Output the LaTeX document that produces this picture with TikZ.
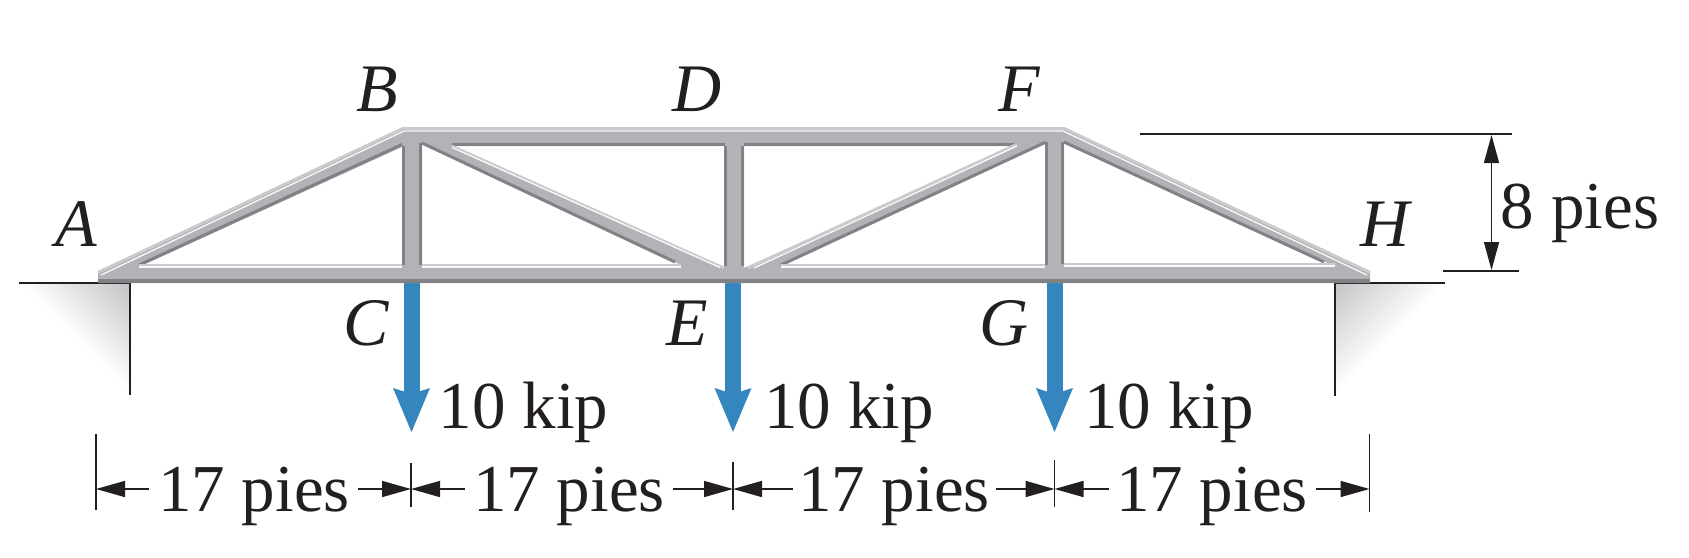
\documentclass[tikz,border=0pt]{standalone}
\usepackage{fontspec}
\setmainfont{Liberation Serif}
\usetikzlibrary{arrows.meta}
\definecolor{ink}{HTML}{231F20}
\definecolor{steel}{HTML}{B1B3B6}
\definecolor{steeldark}{HTML}{808285}
\definecolor{steellight}{HTML}{C9CBCD}
\definecolor{loadblue}{HTML}{3585BF}
\definecolor{shadegray}{HTML}{C2C3C5}
\tikzset{
  x=1pt,y=-1pt,
  lbl/.style={inner sep=0pt,anchor=base,text=ink,font=\fontsize{68}{68}\selectfont\itshape},
  dimtxt/.style={inner sep=0pt,anchor=base,text=ink,font=\fontsize{67}{67}\selectfont},
  thin line/.style={draw=ink,line width=1.5pt},
  dimarrow/.style={draw=ink,line width=1.5pt,-{Triangle[length=29pt,width=16pt]}},
  load/.style={draw=loadblue,fill=none,line width=16pt},
  edgewhite/.style={draw=white!92!steel,line width=1.3pt},
  edgelight/.style={draw=steellight,line width=2.6pt},
}
\begin{document}
\begin{tikzpicture}
\useasboundingbox (0,0) rectangle (1689,557);
% supports: nested triangles give a fade from the corner to the hypotenuse
\foreach \L in {111,109,...,1}{
  \pgfmathsetmacro\pct{100*(1-\L/111)}
  \fill[shadegray!\pct!white] (130,283) -- ++(-\L,0) -- ++(\L,\L) -- cycle;
  \fill[shadegray!\pct!white] (1335,283) -- ++(\L,0) -- ++(-\L,\L) -- cycle;
}
\coordinate (gl0) at (19,283); \coordinate (gl1) at (130,283); \coordinate (gl2) at (130,395);
\coordinate (gr0) at (1445,283); \coordinate (gr1) at (1335,283); \coordinate (gr2) at (1335,396);
\draw[thin line] (gl0) -- (gl1) -- (gl2);
\draw[thin line] (gr0) -- (gr1) -- (gr2);
% loads
\coordinate (c1) at (411.5,282); \coordinate (c2) at (733,282); \coordinate (c3) at (1054.5,282);
\foreach \n in {c1,c2,c3}{
  \draw[load] (\n) -- ++(0,112);
  \fill[loadblue] (\n) ++(0,150) -- ++(-18.5,-44) -- ++(18.5,6) -- ++(18.5,-6) -- cycle;
}
% truss body with holes
\fill[steel,even odd rule]
  (98,271) -- (403,127) -- (1064,127) -- (1370,271) -- (1370,283) -- (98,283) -- cycle
  (143,265) -- (402,147) -- (402,265) -- cycle
  (422,143) -- (681,265) -- (422,265) -- cycle
  (452,146) -- (724,146) -- (724,268) -- cycle
  (744,146) -- (1017,146) -- (744,268) -- cycle
  (781,265) -- (1045,142) -- (1045,265) -- cycle
  (1064,142) -- (1330,264) -- (1064,264) -- cycle;
% dark edges
\draw[steeldark,line width=4pt] (98,281) -- (1370,281);
\foreach \a/\b in {{139,265}/{402,144.5},{403.5,146}/{403.5,265},{420.5,143}/{420.5,265},{422,143}/{675,262},{452,144.5}/{725,144.5},{725.5,146}/{725.5,266},{742.5,146}/{742.5,266},{744,144.5}/{1017,144.5},{781,265}/{1045,142.5},{1046.5,142}/{1046.5,265},{1062.5,142}/{1062.5,264},{1064,142}/{1324,262}}
  \draw[steeldark,line width=3pt] (\a) -- (\b);
% light edges
\draw[edgelight] (98,272.5) -- (403,128.5) -- (1064,128.5) -- (1370,272.5);
\draw[edgewhite] (101,275) -- (404,131) -- (1063,131) -- (1367,275);
\draw[edgelight] (139,265.5) -- (402,265.5);
\draw[edgewhite] (139,267) -- (402,267);
\draw[edgelight] (422,265.5) -- (681,265.5);
\draw[edgewhite] (422,267) -- (681,267);
\draw[edgelight] (781,265.5) -- (1045,265.5);
\draw[edgewhite] (781,267) -- (1045,267);
\draw[edgelight] (1064,264.5) -- (1335,264.5);
\draw[edgewhite] (1064,266) -- (1335,266);
\draw[edgelight] (452,146) -- (724,268);
\draw[edgewhite] (452,147.5) -- (720,267.5);
\draw[edgelight] (1017,144) -- (748,268);
\draw[edgewhite] (1017,146) -- (754,268);
% letters
\node[lbl] (A) at (76,246) {A};
\node[lbl] (B) at (377.5,111) {B};
\node[lbl] (C) at (366,345) {C};
\node[lbl] (D) at (697,111) {D};
\node[lbl] (E) at (687,345) {E};
\node[lbl] (F) at (1019,111) {F};
\node[lbl] (G) at (1004,345) {G};
\node[lbl] (H) at (1385,246) {H};
% load labels
\node[dimtxt] (k1) at (523.5,428) {10 kip};
\node[dimtxt] (k2) at (849,428) {10 kip};
\node[dimtxt] (k3) at (1169,428) {10 kip};
% height dimension
\coordinate (hT0) at (1140,134); \coordinate (hT1) at (1512,134);
\coordinate (hB0) at (1443,271); \coordinate (hB1) at (1519,271);
\draw[thin line] (hT0) -- (hT1);
\draw[thin line] (hB0) -- (hB1);
\coordinate (hU) at (1491.5,135); \coordinate (hD) at (1491.5,270);
\draw[dimarrow,{Triangle[length=28pt,width=15pt]}-{Triangle[length=28pt,width=15pt]}] (hU) -- (hD);
\node[dimtxt] (h) at (1580,228) {8 pies};
% horizontal dimensions
\coordinate (t0a) at (96,434); \coordinate (t0b) at (96,510);
\coordinate (t1a) at (411,463); \coordinate (t1b) at (411,507);
\coordinate (t2a) at (733,462); \coordinate (t2b) at (733,510);
\coordinate (t3a) at (1054.5,460); \coordinate (t3b) at (1054.5,507);
\coordinate (t4a) at (1369.5,434); \coordinate (t4b) at (1369.5,512);
\foreach \n in {0,...,4} \draw[thin line] (t\n a) -- (t\n b);
\coordinate (p0) at (96,489); \coordinate (p1) at (411,489); \coordinate (p2) at (733,489);
\coordinate (p3) at (1054.5,489); \coordinate (p4) at (1369.5,489);
\node[dimtxt] (d1) at (254,511) {17 pies};
\node[dimtxt] (d2) at (569,511) {17 pies};
\node[dimtxt] (d3) at (894,511) {17 pies};
\node[dimtxt] (d4) at (1212,511) {17 pies};
\coordinate (a1l) at (149,489); \coordinate (a1r) at (358,489);
\coordinate (a2l) at (465,489); \coordinate (a2r) at (673,489);
\coordinate (a3l) at (793,489); \coordinate (a3r) at (996,489);
\coordinate (a4l) at (1109,489); \coordinate (a4r) at (1316,489);
\draw[dimarrow] (a1l) -- (p0); \draw[dimarrow] (a1r) -- (p1);
\draw[dimarrow] (a2l) -- (p1); \draw[dimarrow] (a2r) -- (p2);
\draw[dimarrow] (a3l) -- (p2); \draw[dimarrow] (a3r) -- (p3);
\draw[dimarrow] (a4l) -- (p3); \draw[dimarrow] (a4r) -- (p4);
\end{tikzpicture}
\end{document}
